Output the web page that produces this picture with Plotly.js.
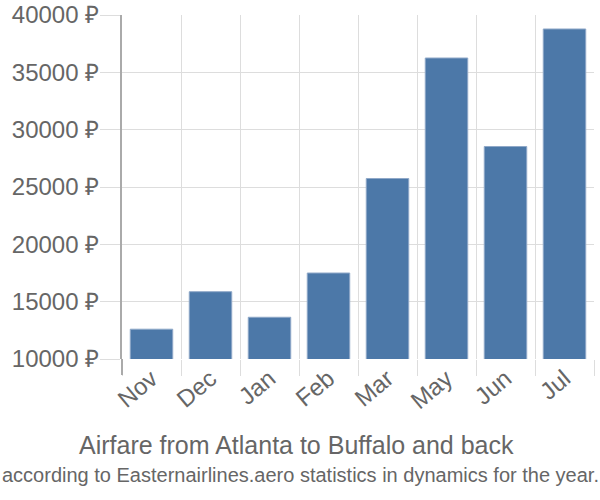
<!DOCTYPE html>
<html>
<head>
<meta charset="utf-8">
<script src="https://cdn.plot.ly/plotly-3.0.1.min.js"></script>
<style>html,body{margin:0;padding:0;background:#fff;}#chart{width:600px;height:500px;}</style>
</head>
<body>
<div id="chart"></div>
<script>
const months = ["Nov", "Dec", "Jan", "Feb", "Mar", "May", "Jun", "Jul"];
const prices = [12600, 15870, 13640, 17500, 25740, 36250, 28530, 38780];
const yTicks = [10000, 15000, 20000, 25000, 30000, 35000, 40000];
const yTickLabels = yTicks.map(v => v + " ₽");
const titleLine1 = "Airfare from Atlanta to Buffalo and back";
const titleLine2 = "according to Easternairlines.aero statistics in dynamics for the year.";

const trace = {
  type: "bar",
  x: months,
  y: prices,
  marker: {color: "#4c78a8", line: {color: "#8fa8c8", width: 1}},
  hoverinfo: "skip"
};

const layout = {
  width: 600, height: 500,
  margin: {l: 122, r: 6, t: 15, b: 141},
  paper_bgcolor: "#fff", plot_bgcolor: "#fff",
  bargap: 0.28,
  showlegend: false,
  font: {family: "Liberation Sans, Arial, sans-serif", color: "#666"},
  xaxis: {
    type: "category",
    tickson: "boundaries",
    ticks: "outside", ticklen: 16, tickcolor: "#ddd", tickwidth: 1,
    showgrid: true, gridcolor: "#ddd", gridwidth: 1,
    tickangle: -40,
    tickfont: {size: 24, color: "#666"},
    showline: false, zeroline: false,
    fixedrange: true
  },
  yaxis: {
    range: [10000, 40000],
    tickvals: yTicks, ticktext: yTickLabels,
    ticks: "outside", ticklen: 20, tickcolor: "#ddd", tickwidth: 1,
    ticklabelstandoff: -4,
    showgrid: true, gridcolor: "#ddd", gridwidth: 1,
    tickfont: {size: 24, color: "#666"},
    showline: true, linecolor: "#aaa", linewidth: 2,
    zeroline: false,
    fixedrange: true
  },
  shapes: [
    {type: "line", xref: "paper", yref: "paper", x0: 0, x1: 0, y0: -16/344, y1: 0,
     line: {color: "#aaa", width: 2}}
  ],
  annotations: [
    {text: titleLine1, xref: "paper", yref: "paper", x: 0.5, y: 0, xanchor: "center", yanchor: "middle",
     xshift: -62, yshift: -86, showarrow: false, font: {size: 25, color: "#666"}},
    {text: titleLine2, xref: "paper", yref: "paper", x: 0.5, y: 0, xanchor: "center", yanchor: "middle",
     xshift: -58, yshift: -116, showarrow: false, font: {size: 20, color: "#666"}}
  ]
};

Plotly.newPlot("chart", [trace], layout, {displayModeBar: false, staticPlot: true});
</script>
</body>
</html>
